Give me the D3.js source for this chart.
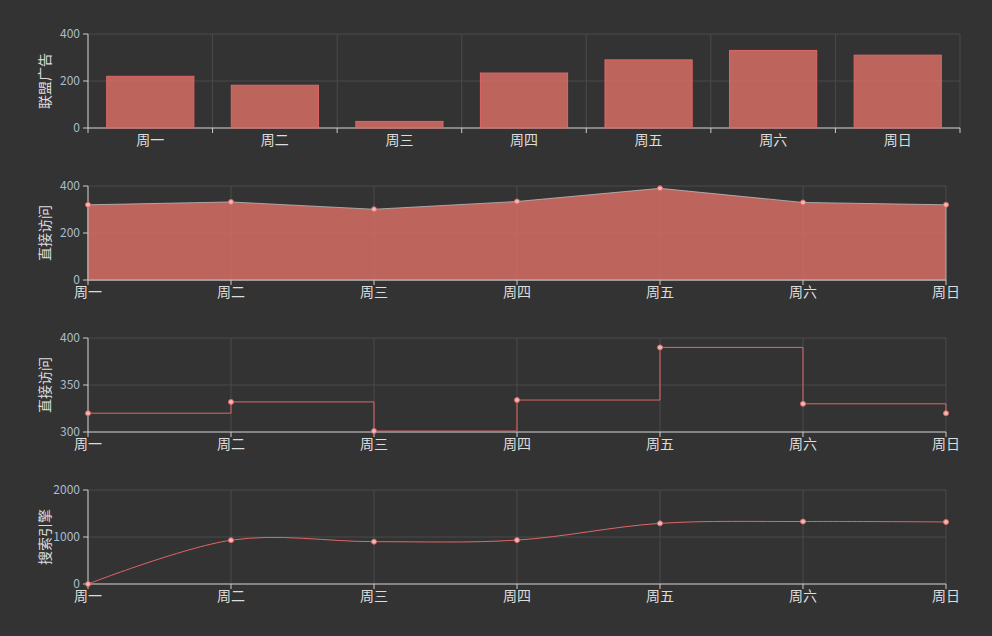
<!DOCTYPE html>
<html><head><meta charset="utf-8">
<script src="https://cdn.jsdelivr.net/npm/d3@7"></script>
<style>body{margin:0;background:#333;}text{font-family:"Noto Sans CJK SC","Noto Sans",sans-serif;}</style>
</head><body>
<script>
var days = ["周一","周二","周三","周四","周五","周六","周日"];
var adValues = [220, 182, 28, 234, 290, 330, 310];
var directValues = [320, 332, 301, 334, 390, 330, 320];
var searchValues = [0, 932, 901, 934, 1290, 1330, 1320];

var w = 992, h = 636;
var svg = d3.select("body").append("svg").attr("width", w).attr("height", h);
var red = "#e06666", fillRed = "rgba(224,112,104,0.8)";

function panel(top, right, yDomain, yTicks, title, band) {
	var ph = 94, left = 88;
	var g = svg.append("g").attr("transform", "translate(0," + top + ")");
	var y = d3.scaleLinear().domain(yDomain).range([ph, 0]);
	var x = band ? d3.scaleBand().domain(days).range([left, right])
		: d3.scalePoint().domain(days).range([left, right]);
	// grid
	g.selectAll(".hg").data(yTicks).enter().append("line")
		.attr("x1", left).attr("x2", right).attr("y1", y).attr("y2", y)
		.attr("stroke", "#4a4a4a");
	var vx = band ? days.map(function(d){return x(d);}).concat([right]) : days.map(x);
	g.selectAll(".vg").data(vx).enter().append("line")
		.attr("x1", function(d){return d;}).attr("x2", function(d){return d;})
		.attr("y1", 0).attr("y2", ph).attr("stroke", "#4a4a4a");
	// y axis
	g.append("line").attr("x1", left).attr("x2", left).attr("y1", 0).attr("y2", ph).attr("stroke", "#ccc");
	g.selectAll(".yt").data(yTicks).enter().append("line")
		.attr("x1", left - 5).attr("x2", left).attr("y1", y).attr("y2", y).attr("stroke", "#ccc");
	g.selectAll(".yl").data(yTicks).enter().append("text")
		.attr("x", left - 8).attr("y", function(d){return y(d) - (band ? 0 : 0);}).attr("dy", "0.35em").attr("text-anchor", "end")
		.attr("fill", "#a9bccf").attr("font-size", 12).text(function(d){return d;});
	g.append("text").attr("transform", "translate(50," + (ph / 2) + ") rotate(-90)")
		.attr("text-anchor", "middle").attr("fill", "#ddd").attr("font-size", 14).text(title);
	// x axis
	g.append("line").attr("x1", left).attr("x2", right).attr("y1", ph).attr("y2", ph).attr("stroke", "#ccc");
	g.selectAll(".xt").data(vx).enter().append("line")
		.attr("x1", function(d){return d;}).attr("x2", function(d){return d;})
		.attr("y1", ph).attr("y2", ph + 5).attr("stroke", "#ccc");
	g.selectAll(".xl").data(days).enter().append("text")
		.attr("x", function(d){return x(d) + (band ? x.bandwidth() / 2 : 0);}).attr("y", ph + 17)
		.attr("text-anchor", "middle").attr("fill", "#ddd").attr("font-size", 14).text(function(d){return d;});
	return {g: g, x: x, y: y};
}

function dots(p, vals) {
	p.g.selectAll(".dot").data(vals).enter().append("circle")
		.attr("cx", function(d, i){return p.x(days[i]);}).attr("cy", p.y)
		.attr("r", 2.5).attr("fill", "#f2b8b5").attr("stroke", "#e06666").attr("stroke-width", 1);
}

// bars
var p1 = panel(34, 960, [0, 400], [0, 200, 400], "联盟广告", true);
p1.x.paddingInner(0.3).paddingOuter(0.15);
p1.g.selectAll(".bar").data(adValues).enter().append("rect")
	.attr("x", function(d, i){return p1.x(days[i]);}).attr("width", p1.x.bandwidth())
	.attr("y", p1.y).attr("height", function(d){return p1.y(0) - p1.y(d);})
	.attr("fill", fillRed).attr("stroke", red);

// area
var p2 = panel(186, 946, [0, 400], [0, 200, 400], "直接访问", false);
p2.g.append("path").datum(directValues)
	.attr("d", d3.area().x(function(d, i){return p2.x(days[i]);}).y0(p2.y(0)).y1(p2.y))
	.attr("fill", fillRed).attr("stroke", "#bbb").attr("stroke-width", 0.8);
dots(p2, directValues);

// step
var p3 = panel(338, 946, [300, 400], [300, 350, 400], "直接访问", false);
p3.g.append("path").datum(directValues)
	.attr("d", d3.line().x(function(d, i){return p3.x(days[i]);}).y(p3.y).curve(d3.curveStepAfter))
	.attr("fill", "none").attr("stroke", red).attr("stroke-width", 1);
dots(p3, directValues);

// smooth
var p4 = panel(490, 946, [0, 2000], [0, 1000, 2000], "搜索引擎", false);
p4.g.append("path").datum(searchValues)
	.attr("d", d3.line().x(function(d, i){return p4.x(days[i]);}).y(p4.y).curve(d3.curveCardinal.tension(0)))
	.attr("fill", "none").attr("stroke", red).attr("stroke-width", 1);
dots(p4, searchValues);
</script>
</body></html>
